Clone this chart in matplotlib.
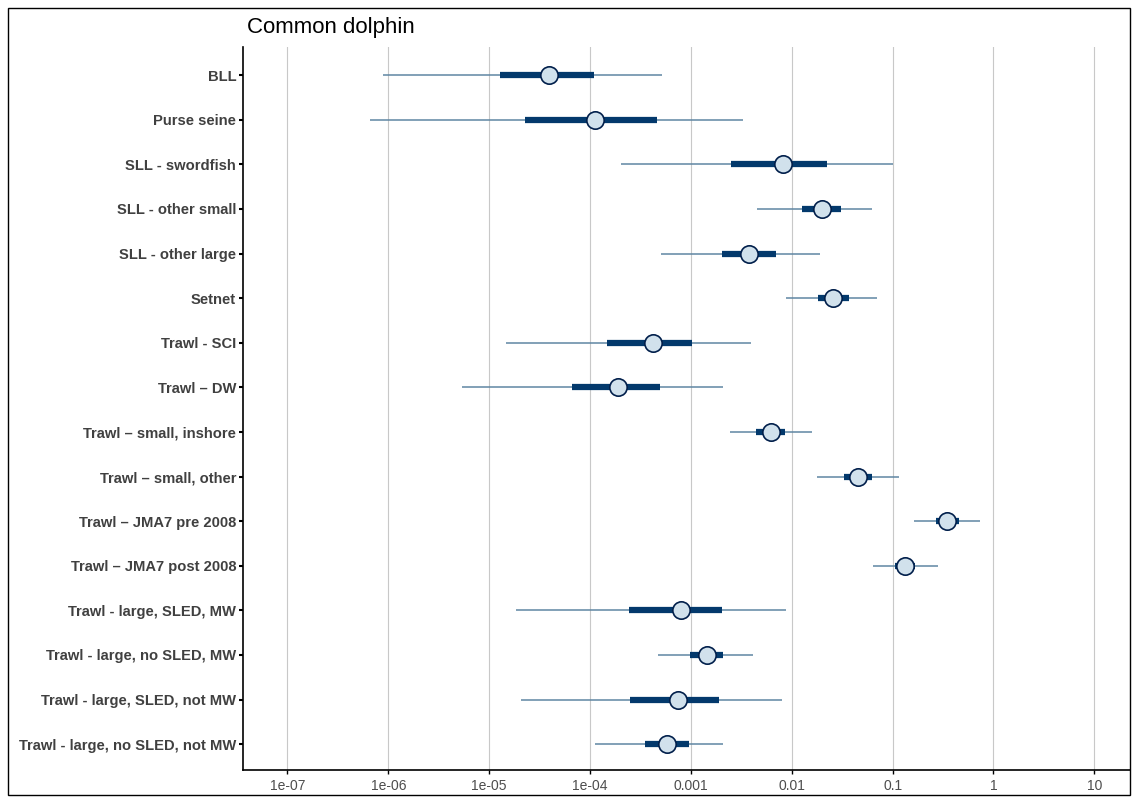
import matplotlib.pyplot as plt
import numpy as np
from matplotlib.patches import Rectangle

plt.rcParams['font.family'] = ['Liberation Sans', 'DejaVu Sans']

# fisheries and posterior summaries (log10 scale)
fisheries = ['BLL', 'Purse seine', 'SLL - swordfish', 'SLL - other small',
             'SLL - other large', 'Setnet', 'Trawl - SCI', 'Trawl \u2013 DW',
             'Trawl \u2013 small, inshore', 'Trawl \u2013 small, other',
             'Trawl \u2013 JMA7 pre 2008', 'Trawl \u2013 JMA7 post 2008',
             'Trawl - large, SLED, MW', 'Trawl - large, no SLED, MW',
             'Trawl - large, SLED, not MW', 'Trawl - large, no SLED, not MW']
lo95 = [-6.05, -6.18, -3.69, -2.34, -3.30, -2.06, -4.83, -5.27,
        -2.61, -1.75, -0.79, -1.19, -4.73, -3.33, -4.68, -3.95]
lo50 = [-4.89, -4.64, -2.60, -1.90, -2.69, -1.74, -3.83, -4.18,
        -2.35, -1.48, -0.57, -0.98, -3.61, -3.01, -3.60, -3.46]
med = [-4.41, -3.95, -2.09, -1.70, -2.42, -1.59, -3.38, -3.72,
       -2.21, -1.34, -0.46, -0.88, -3.10, -2.84, -3.13, -3.24]
hi50 = [-3.96, -3.34, -1.65, -1.51, -2.16, -1.43, -2.99, -3.31,
        -2.07, -1.20, -0.34, -0.78, -2.69, -2.68, -2.72, -3.02]
hi95 = [-3.29, -2.48, -1.00, -1.20, -1.72, -1.15, -2.40, -2.68,
        -1.80, -0.94, -0.13, -0.55, -2.06, -2.38, -2.10, -2.68]

xticks = [1e-7, 1e-6, 1e-5, 1e-4, 1e-3, 1e-2, 1e-1, 1, 10]
xticklabels = ['1e-07', '1e-06', '1e-05', '1e-04', '0.001', '0.01', '0.1', '1', '10']

fig = plt.figure(figsize=(11.36, 7.98), dpi=100)
ax = fig.add_axes([0.214, 0.035, 0.781, 0.906])

y = np.arange(len(fisheries))
p = lambda v: 10 ** np.array(v)
ax.hlines(y, p(lo95), p(hi95), color='#5f86a3', lw=1.1, zorder=2)
ax.hlines(y, p(lo50), p(hi50), color='#03396c', lw=4.5, zorder=3)
ax.plot(p(med), y, 'o', ms=12.5, mfc='#d1e1ec', mec='#011f4b', mew=1.2, zorder=4)

ax.set_xscale('log')
ax.set_xlim(10 ** -7.44, 10 ** 1.357)
ax.set_ylim(15.58, -0.63)
ax.set_xticks(xticks)
ax.set_xticklabels(xticklabels)
ax.minorticks_off()
ax.set_yticks(y)
ax.set_yticklabels(fisheries, fontweight='bold')
ax.tick_params(axis='y', labelsize=10.6, labelcolor='#404040', length=3, width=1.5, pad=2)
ax.tick_params(axis='x', labelsize=10, labelcolor='#4d4d4d', length=3, width=1)
ax.grid(axis='x', color='#c8c8c8', lw=0.8, zorder=0)
ax.set_axisbelow(True)
for s in ['top', 'right']:
    ax.spines[s].set_visible(False)
ax.spines['left'].set_linewidth(1.2)
ax.spines['bottom'].set_linewidth(1.2)

fig.text(0.217, 0.965, 'Common dolphin', fontsize=16, va='center', ha='left')
fig.add_artist(Rectangle((0.007, 0.004), 0.988, 0.986, transform=fig.transFigure,
                         fill=False, ec='black', lw=1))

plt.savefig('out.png', dpi=100)
